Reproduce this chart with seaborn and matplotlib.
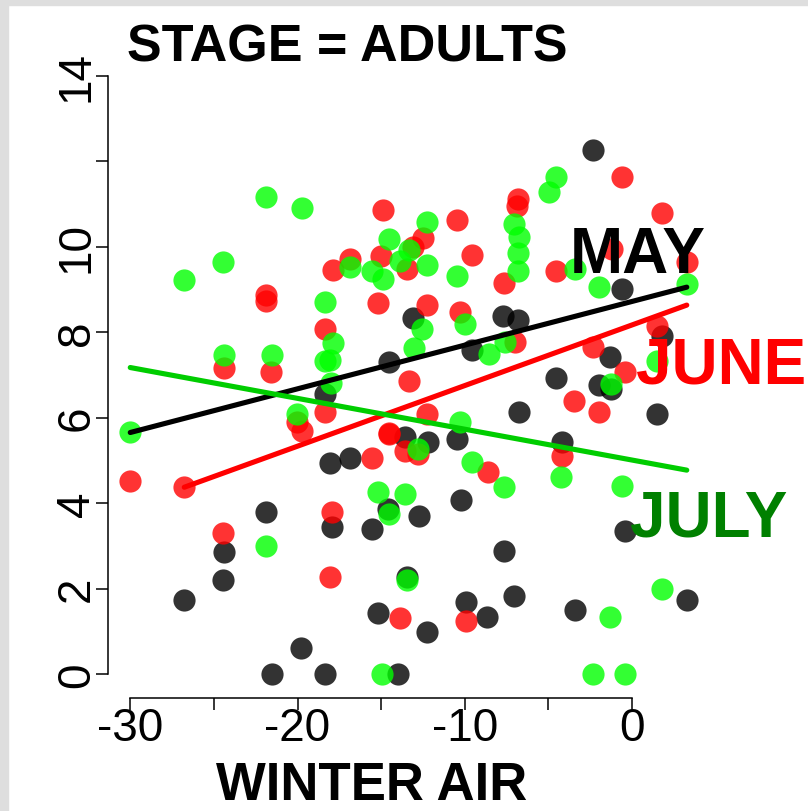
import numpy as np
import pandas as pd
import matplotlib
matplotlib.use("Agg")
import matplotlib.pyplot as plt
import seaborn as sns

# ---------------- data ----------------
may_x = [-2.35, -0.61, -13.07, -7.69, -6.79, -9.58, -14.56, 1.78, -1.31, -4.54,
         -2.0, -1.27, -6.73, 1.48, -18.34, -18.05, -16.85, -13.56, -12.17, -10.47,
         -4.2, -21.87, -17.94, -15.55, -14.62, -12.73, -10.23, -0.41, -7.64, -24.38,
         -24.46, -13.46, -26.77, -19.78, -15.16, -9.92, -8.68, -12.27, -7.03, -3.44,
         3.27, -21.55, -18.34, -14.0]
may_y = [12.26, 9.0, 8.34, 8.38, 8.29, 7.59, 7.29, 7.9, 7.42, 6.92,
         6.76, 6.67, 6.14, 6.08, 6.55, 4.94, 5.05, 5.54, 5.42, 5.5,
         5.42, 3.8, 3.45, 3.39, 3.86, 3.7, 4.07, 3.35, 2.87, 2.85,
         2.21, 2.26, 1.73, 0.62, 1.43, 1.68, 1.33, 0.98, 1.82, 1.5,
         1.73, 0.0, 0.0, 0.0]

june_x = [-0.61, 1.78, -6.79, -6.85, -14.86, -10.44, -12.47, -13.07, -9.58, -16.89,
          -15.0, -17.88, -13.46, -4.56, -1.21, 3.27, -7.64, -21.87, -21.87, -15.16,
          -12.27, -10.27, -18.34, 1.48, -6.99, -2.31, -0.41, -24.38, -21.57, -13.36,
          -3.45, -2.0, -12.27, -18.34, -20.04, -19.74, -15.55, -14.56, -14.56, -13.56,
          -12.77, -8.64, -4.2, -30.0, -26.77, -17.94, -24.46, -18.05, -13.86, -9.92]
june_y = [11.62, 10.78, 11.11, 10.94, 10.85, 10.63, 10.21, 9.98, 9.81, 9.71,
          9.77, 9.46, 9.47, 9.43, 9.94, 9.63, 9.15, 8.87, 8.73, 8.68,
          8.64, 8.46, 8.07, 8.15, 7.76, 7.64, 7.07, 7.17, 7.06, 6.86,
          6.38, 6.14, 6.08, 6.12, 5.89, 5.69, 5.05, 5.61, 5.63, 5.22,
          5.15, 4.72, 5.11, 4.51, 4.37, 3.8, 3.29, 2.26, 1.31, 1.25]

july_x = [-21.87, -19.76, -14.56, -24.48, -26.77, -16.85, -15.55, -14.86, -13.86, -18.34,
          -17.85, -18.34, -18.05, -24.38, -21.53, -17.99, -20.04, -30.0, -15.16, -14.56,
          -21.87, -14.95, -13.46, -13.56, -12.77, -10.27, -9.58, -7.64, -4.24, -0.61,
          1.78, -1.31, -2.31, -0.41, -4.54, -4.94, -12.27, -7.03, -6.73, -6.83,
          -6.83, -13.36, -12.27, -10.44, -3.4, -2.0, 3.27, -12.57, -13.02, -9.98,
          -8.58, -7.59, 1.48, -1.27]
july_y = [11.15, 10.91, 10.17, 9.64, 9.22, 9.53, 9.42, 9.24, 9.67, 8.71,
          7.74, 7.33, 7.35, 7.47, 7.47, 6.81, 6.08, 5.67, 4.27, 3.74,
          3.0, 0.0, 2.21, 4.21, 5.26, 5.89, 4.97, 4.37, 4.6, 4.39,
          2.0, 1.34, 0.0, 0.0, 11.63, 11.27, 10.57, 10.53, 10.23, 9.86,
          9.43, 9.93, 9.58, 9.32, 9.47, 9.06, 9.12, 8.07, 7.63, 8.19,
          7.49, 7.76, 7.33, 6.78]

# fitted-line end points
may_fit_x = [-30.0, 3.27]
may_fit_y = [5.65, 9.05]
june_fit_x = [-26.77, 3.27]
june_fit_y = [4.37, 8.63]
july_fit_x = [-30.0, 3.27]
july_fit_y = [7.17, 4.77]

x_ticks = [-30, -25, -20, -15, -10, -5, 0]
x_tick_labels = ["-30", "", "-20", "", "-10", "", "0"]
y_ticks = [0, 2, 4, 6, 8, 10, 12, 14]
y_tick_labels = ["0", "2", "4", "6", "8", "10", "", "14"]

title_text = "STAGE = ADULTS"
x_label = "WINTER AIR"

# ---------------- figure ----------------
sns.set_style("ticks", rc={"axes.edgecolor": "black", "xtick.color": "black",
                           "ytick.color": "black", "text.color": "black",
                           "axes.labelcolor": "black"})
plt.rcParams['font.family'] = ['Liberation Sans', 'DejaVu Sans']

W, H = 808, 812
fig = plt.figure(figsize=(W / 100, H / 100), dpi=100)
fig.patch.set_facecolor("white")

# screenshot frame (grey strips top and left)
fig.patches.append(plt.Rectangle((0, 1 - 6 / H), 1, 6 / H, transform=fig.transFigure,
                                 color="#dedede", zorder=0))
fig.patches.append(plt.Rectangle((0, 0), 8 / W, 1, transform=fig.transFigure,
                                 color="#dedede", zorder=0))

left, right, top, bottom = 108, 709, 52.6, 699
ax = fig.add_axes([left / W, 1 - bottom / H, (right - left) / W, (bottom - top) / H])
ax.set_facecolor((1, 1, 1, 0))
ax.set_xlim(-31.33, 4.6)
ax.set_ylim(-0.56, 14.56)

df_may = pd.DataFrame({"x": may_x, "y": may_y})
df_june = pd.DataFrame({"x": june_x, "y": june_y})
df_july = pd.DataFrame({"x": july_x, "y": july_y})

S = 255
sns.scatterplot(data=df_may, x="x", y="y", color="black", alpha=0.8, s=S,
                linewidth=0, ax=ax, zorder=2)
sns.scatterplot(data=df_june, x="x", y="y", color="red", alpha=0.8, s=S,
                linewidth=0, ax=ax, zorder=3)
sns.scatterplot(data=df_july, x="x", y="y", color="#00ff00", alpha=0.8, s=S,
                linewidth=0, ax=ax, zorder=4)

lw = 3.7
sns.lineplot(x=may_fit_x, y=may_fit_y, color="black", lw=lw, ax=ax, zorder=5,
             solid_capstyle="round")
sns.lineplot(x=june_fit_x, y=june_fit_y, color="#ff0000", lw=lw, ax=ax, zorder=5,
             solid_capstyle="round")
sns.lineplot(x=july_fit_x, y=july_fit_y, color="#00cd00", lw=lw, ax=ax, zorder=5,
             solid_capstyle="round")

# month labels
ax.text(-3.70, 9.40, "MAY", color="black", fontsize=46, fontweight="bold",
        ha="left", va="baseline", zorder=6, clip_on=False)
ax.text(0.24, 6.83, "JUNE", color="#ff0000", fontsize=46, fontweight="bold",
        ha="left", va="baseline", zorder=6, clip_on=False)
ax.text(-0.12, 3.25, "JULY", color="#008000", fontsize=46, fontweight="bold",
        ha="left", va="baseline", zorder=6, clip_on=False)

# axes styling (R-like)
for s in ["top", "right"]:
    ax.spines[s].set_visible(False)
for s in ["left", "bottom"]:
    ax.spines[s].set_visible(True)
    ax.spines[s].set_color("black")
    ax.spines[s].set_linewidth(1.1)
ax.spines["left"].set_bounds(0, 14)
ax.spines["bottom"].set_bounds(-30, 0)

ax.set_xticks(x_ticks)
ax.set_xticklabels(x_tick_labels)
ax.set_yticks(y_ticks)
ax.set_yticklabels(y_tick_labels, rotation=90, va="center")
ax.tick_params(axis="both", which="major", direction="out", length=8.6, width=1.1,
               color="black", labelsize=33, labelcolor="black",
               bottom=True, left=True, top=False, right=False)
ax.tick_params(axis="x", pad=-3)
ax.tick_params(axis="y", pad=-2)
ax.set_xlabel("")
ax.set_ylabel("")

fig.text(127 / W, 1 - 62 / H, title_text, fontsize=37.5, fontweight="bold",
         color="black", ha="left", va="baseline")
fig.text(372 / W, 1 - 800 / H, x_label, fontsize=38, fontweight="bold",
         color="black", ha="center", va="baseline")

fig.savefig("out.png", dpi=100)
